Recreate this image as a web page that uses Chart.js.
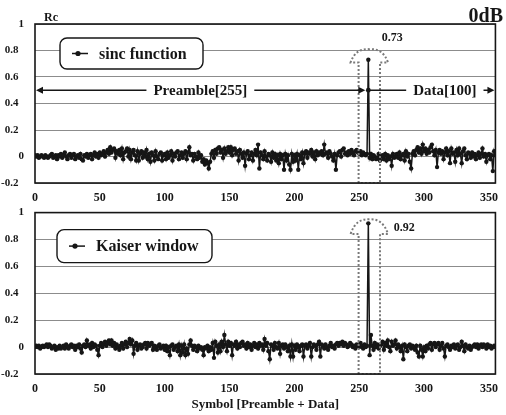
<!DOCTYPE html>
<html>
<head>
<meta charset="utf-8">
<script src="https://cdn.jsdelivr.net/npm/chart.js@4.4.0/dist/chart.umd.min.js"></script>
<style>
  html, body { margin: 0; padding: 0; background: #fff; }
  #wrap { position: relative; width: 506px; height: 415px; }
  canvas { position: absolute; left: 0; }
  #sincChart { top: 0; }
  #kaiserChart { top: 195px; }
</style>
</head>
<body>
<div id="wrap">
  <canvas id="sincChart" width="506" height="210"></canvas>
  <canvas id="kaiserChart" width="506" height="220"></canvas>
</div>
<script>
// correlation output Rc per symbol: 255 preamble symbols followed by 100 data symbols
const preambleLen = 255;
const dataLen = 100;
const symbols = Array.from({ length: 356 }, (_, i) => i);

const sincRc = [
  0.01, 0.00, 0.01, -0.01, 0.00, 0.01, 0.00, -0.01, 0.01, 0.00, -0.01, 0.00, 0.01, 0.02, -0.01, 0.00, 0.01, -0.02, 0.01, 0.00,
  0.02, -0.01, 0.01, 0.03, 0.00, -0.02, 0.01, 0.02, -0.01, 0.01, 0.02, -0.02, 0.00, 0.01, -0.01, 0.02, -0.02, -0.03, 0.01, 0.00,
  0.02, -0.01, 0.01, 0.02, -0.02, 0.01, 0.03, 0.00, 0.02, -0.01, 0.03, 0.01, 0.02, 0.04, 0.00, 0.03, 0.05, 0.02, 0.07, 0.03,
  0.05, 0.06, -0.01, 0.04, 0.02, 0.05, 0.01, 0.06, -0.02, 0.03, 0.04, 0.06, 0.00, 0.05, -0.02, 0.03, 0.05, 0.01, -0.03, 0.04,
  -0.03, 0.02, 0.04, -0.01, 0.03, 0.00, 0.05, -0.02, 0.02, -0.04, 0.03, 0.01, -0.03, 0.04, 0.00, -0.02, 0.02, 0.03, -0.03, 0.01,
  0.02, -0.02, 0.03, -0.01, 0.01, 0.04, -0.03, 0.02, 0.00, 0.03, 0.04, -0.02, 0.01, 0.03, -0.01, 0.02, 0.04, -0.02, 0.03, 0.07,
  0.01, 0.02, -0.03, 0.02, 0.00, -0.02, 0.03, -0.01, 0.01, -0.04, -0.02, -0.06, -0.03, -0.05, -0.09, -0.04, 0.02, 0.04, -0.01, 0.05,
  0.02, 0.06, 0.07, 0.03, 0.05, -0.01, 0.06, 0.02, 0.04, 0.07, 0.03, 0.07, 0.01, 0.05, 0.06, 0.02, 0.04, -0.03, 0.05, 0.02,
  -0.01, 0.03, -0.07, 0.02, 0.04, -0.02, 0.01, 0.03, -0.03, 0.02, 0.05, 0.01, 0.09, -0.09, 0.03, 0.01, -0.02, 0.04, 0.00, -0.03,
  0.02, 0.01, -0.04, 0.03, -0.01, 0.02, -0.03, 0.01, -0.05, 0.02, -0.02, 0.01, -0.10, 0.02, -0.03, 0.01, -0.06, -0.10, 0.02, -0.04,
  0.01, -0.03, 0.02, -0.10, 0.01, -0.02, 0.03, -0.05, 0.02, 0.04, -0.01, 0.03, 0.02, 0.05, 0.00, 0.03, -0.02, 0.04, 0.01, 0.03,
  0.02, 0.04, 0.01, 0.09, 0.02, 0.03, -0.01, 0.04, 0.02, 0.00, -0.03, 0.02, -0.10, 0.01, 0.03, 0.04, 0.00, 0.05, 0.06, 0.02,
  0.03, 0.01, 0.04, 0.02, 0.05, 0.03, 0.01, 0.04, 0.05, 0.03, 0.02, 0.04, 0.01, 0.03, 0.02, 0.01, 0.02, 0.73, -0.01, 0.02,
  -0.02, 0.01, 0.00, -0.02, -0.01, 0.02, -0.03, 0.00, 0.01, -0.02, 0.02, -0.03, 0.01, -0.02, 0.00, -0.07, 0.02, -0.01, 0.00, 0.02,
  -0.01, 0.03, -0.02, 0.01, 0.02, -0.03, 0.04, 0.00, 0.02, -0.04, -0.09, 0.02, 0.04, 0.01, 0.05, 0.07, 0.03, 0.06, 0.02, 0.09,
  0.04, 0.06, 0.02, 0.05, 0.03, 0.07, 0.09, 0.04, 0.01, 0.05, -0.08, 0.03, 0.05, 0.02, 0.04, -0.02, 0.03, 0.06, 0.01, 0.04,
  -0.05, 0.06, 0.02, 0.03, -0.04, 0.05, 0.01, 0.06, 0.02, -0.05, 0.04, 0.06, 0.01, -0.02, 0.03, 0.02, -0.01, 0.03, 0.00, 0.02,
  -0.02, 0.01, 0.03, -0.01, 0.02, 0.06, 0.00, 0.02, -0.04, 0.01, 0.02, -0.02, 0.01, -0.11, 0.04, 0.01
];

const kaiserRc = [
  0.00, 0.01, 0.00, 0.01, -0.01, 0.00, 0.01, 0.00, 0.01, 0.02, 0.00, 0.02, 0.01, -0.01, 0.00, 0.01, -0.02, 0.00, -0.01, 0.01,
  -0.01, 0.00, 0.01, -0.01, 0.02, 0.00, -0.01, 0.01, 0.02, 0.00, 0.01, -0.02, 0.01, 0.00, 0.02, -0.01, -0.04, 0.01, 0.02, 0.00,
  0.05, 0.01, 0.02, -0.01, 0.03, 0.00, 0.02, 0.01, -0.02, -0.06, 0.01, 0.03, 0.00, 0.02, 0.04, 0.01, 0.03, 0.05, 0.02, 0.05,
  0.01, 0.03, -0.01, 0.02, 0.00, -0.02, 0.01, 0.03, -0.01, 0.02, 0.04, 0.00, 0.03, 0.06, 0.02, 0.05, -0.05, 0.01, 0.03, -0.02,
  0.01, 0.02, -0.01, 0.00, 0.02, 0.03, -0.01, 0.03, 0.01, 0.02, 0.03, -0.02, 0.01, 0.00, -0.02, 0.01, 0.02, -0.01, 0.00, 0.01,
  -0.02, 0.01, -0.03, 0.00, -0.06, 0.01, 0.02, -0.02, 0.00, 0.01, -0.03, 0.02, -0.06, 0.01, -0.04, 0.02, -0.06, -0.01, -0.05, 0.02,
  0.05, 0.01, -0.02, 0.01, 0.00, -0.03, 0.01, -0.01, 0.00, -0.02, -0.06, 0.00, -0.01, 0.01, -0.03, 0.00, -0.02, 0.03, -0.08, 0.04,
  0.01, -0.04, 0.02, -0.03, 0.04, 0.00, 0.09, 0.02, -0.03, 0.04, 0.01, 0.03, -0.06, 0.02, 0.01, 0.04, -0.01, 0.02, 0.00, 0.03,
  0.04, 0.01, 0.02, -0.01, 0.03, 0.00, 0.02, -0.02, 0.01, 0.03, 0.00, 0.02, -0.01, 0.03, 0.01, 0.02, -0.02, 0.06, 0.01, 0.03,
  -0.03, -0.09, 0.02, 0.01, -0.02, 0.03, 0.00, -0.01, 0.03, -0.05, 0.01, 0.02, -0.01, 0.02, 0.00, -0.03, 0.01, -0.07, 0.02, -0.07,
  0.01, -0.02, 0.02, 0.00, -0.03, 0.01, 0.02, -0.07, 0.01, 0.02, -0.01, 0.01, 0.03, -0.07, 0.00, 0.02, 0.01, -0.02, 0.02, 0.04,
  -0.07, 0.02, 0.01, -0.01, 0.02, 0.00, -0.02, 0.01, 0.03, 0.00, 0.01, -0.01, 0.02, 0.03, 0.01, 0.03, 0.02, 0.04, 0.01, 0.03,
  0.02, 0.00, 0.01, 0.03, 0.02, 0.00, 0.01, -0.01, 0.02, 0.01, 0.00, 0.03, 0.01, -0.01, 0.02, 0.00, 0.01, 0.92, -0.06, 0.09,
  0.01, -0.02, 0.03, 0.00, 0.02, -0.01, 0.01, 0.02, 0.04, -0.02, 0.03, 0.01, 0.05, 0.00, -0.03, 0.04, 0.01, 0.02, 0.05, -0.01,
  0.02, 0.00, -0.03, 0.01, -0.09, 0.02, 0.00, -0.03, 0.01, 0.02, -0.01, 0.01, 0.00, -0.02, 0.01, -0.04, -0.07, 0.01, -0.02, -0.07,
  0.00, -0.03, 0.01, -0.01, 0.02, 0.03, -0.02, 0.02, 0.03, 0.00, 0.02, 0.03, -0.02, 0.01, 0.03, -0.01, -0.07, 0.01, 0.02, 0.00,
  -0.02, 0.01, 0.00, 0.02, -0.01, 0.01, 0.02, -0.02, 0.00, 0.04, 0.01, -0.03, 0.02, 0.00, -0.01, 0.01, -0.02, 0.00, 0.01, 0.02,
  0.00, 0.02, -0.01, 0.01, 0.02, 0.00, 0.02, 0.01, -0.01, 0.02, 0.00, 0.01, -0.01, 0.00, 0.01, 0.00
];

const xTicks = [0, 50, 100, 150, 200, 250, 300, 350];
const yTicks = [-0.2, 0, 0.2, 0.4, 0.6, 0.8, 1];

const SERIF = '"Liberation Serif", "Times New Roman", serif';
const INK = '#161616';

function arrowHead(ctx, x, y, dir) {
  ctx.beginPath();
  ctx.moveTo(x, y);
  ctx.lineTo(x - dir * 7, y - 3.5);
  ctx.lineTo(x - dir * 7, y + 3.5);
  ctx.closePath();
  ctx.fill();
}

function hLine(ctx, x0, x1, y) {
  ctx.beginPath();
  ctx.moveTo(x0, y);
  ctx.lineTo(x1, y);
  ctx.stroke();
}

// frame, legend box, peak marker and the preamble/data arrows
const decorPlugin = {
  id: 'decor',
  afterDraw(chart, args, opts) {
    const { ctx, chartArea: a, scales: { x, y } } = chart;
    const pts = chart.data.datasets[0].data;
    const peak = pts.reduce((m, p) => (p.y > m.y ? p : m));
    const px = x.getPixelForValue(peak.x);
    const py = y.getPixelForValue(peak.y);

    ctx.save();
    ctx.fillStyle = INK;
    ctx.strokeStyle = INK;

    // dotted outline around the peak
    const xl = x.getPixelForValue(opts.window[0]);
    const xr = x.getPixelForValue(opts.window[1]);
    const ys = y.getPixelForValue(opts.shoulder);
    const ya = y.getPixelForValue(opts.apex);
    const xc = (xl + xr) / 2;
    ctx.save();
    ctx.strokeStyle = '#7a7a7a';
    ctx.lineWidth = 2;
    ctx.setLineDash([2, 2]);
    ctx.beginPath();
    ctx.moveTo(xl, a.bottom);
    ctx.lineTo(xl, ys);
    ctx.lineTo(xl - 8, ys);
    ctx.quadraticCurveTo(xl - 3, ya - 1, xc, ya);
    ctx.quadraticCurveTo(xr + 3, ya - 1, xr + 8, ys);
    ctx.lineTo(xr, ys);
    ctx.lineTo(xr, a.bottom);
    ctx.closePath();
    ctx.stroke();
    ctx.restore();

    // plot frame
    ctx.lineWidth = 1.6;
    ctx.strokeRect(a.left, a.top, a.right - a.left, a.bottom - a.top);

    // peak value
    ctx.font = `bold 12px ${SERIF}`;
    ctx.textAlign = 'center';
    ctx.textBaseline = 'middle';
    ctx.fillText(peak.y.toFixed(2), px + opts.labelDx, py + opts.labelDy);

    // legend box
    const lg = opts.legend;
    const bx = a.left + lg.dx, by = a.top + lg.dy;
    ctx.beginPath();
    ctx.roundRect(bx, by, lg.w, lg.h, 7);
    ctx.fillStyle = '#fff';
    ctx.fill();
    ctx.fillStyle = INK;
    ctx.lineWidth = 1.4;
    ctx.stroke();
    const my = by + lg.h / 2;
    ctx.lineWidth = 1.5;
    hLine(ctx, bx + 12, bx + 28, my);
    ctx.beginPath();
    ctx.arc(bx + 18, my, 2.6, 0, Math.PI * 2);
    ctx.fill();
    ctx.font = `bold 16px ${SERIF}`;
    ctx.textAlign = 'left';
    ctx.fillText(chart.data.datasets[0].label, bx + 39, my + 1);

    // preamble / data span arrows
    if (opts.spans) {
      const sy = y.getPixelForValue(opts.spans.level);
      ctx.font = `bold 15px ${SERIF}`;
      ctx.textAlign = 'center';
      ctx.lineWidth = 1.5;
      const preText = `Preamble[${preambleLen}]`;
      const datText = `Data[${dataLen}]`;
      const preX = x.getPixelForValue(opts.spans.preambleAt);
      const datX = x.getPixelForValue(opts.spans.dataAt);
      const pw = ctx.measureText(preText).width / 2 + 7;
      const dw = ctx.measureText(datText).width / 2 + 7;
      hLine(ctx, a.left + 4, preX - pw, sy);
      arrowHead(ctx, a.left + 1, sy, -1);
      ctx.fillText(preText, preX, sy + 1);
      hLine(ctx, preX + pw, px - 8, sy);
      arrowHead(ctx, px - 3, sy, 1);
      ctx.beginPath();
      ctx.arc(px, sy, 2.4, 0, Math.PI * 2);
      ctx.fill();
      hLine(ctx, px, datX - dw, sy);
      ctx.fillText(datText, datX, sy + 1);
      hLine(ctx, datX + dw, a.right - 5, sy);
      arrowHead(ctx, a.right - 1, sy, 1);
    }

    // corner texts
    if (opts.corner) {
      ctx.textBaseline = 'alphabetic';
      ctx.font = `bold 20px ${SERIF}`;
      ctx.textAlign = 'right';
      ctx.fillText(opts.corner.right, 503, 22);
      ctx.font = `bold 12px ${SERIF}`;
      ctx.textAlign = 'left';
      ctx.fillText(opts.corner.left, 44, 21);
    }

    // axis title
    if (opts.xTitle) {
      ctx.font = `bold 13px ${SERIF}`;
      ctx.textAlign = 'center';
      ctx.textBaseline = 'middle';
      ctx.fillText(opts.xTitle, (a.left + a.right) / 2, a.bottom + 31);
    }
    ctx.restore();
  }
};

function makeChart(id, label, values, pad, xHeight, decor) {
  return new Chart(document.getElementById(id), {
    type: 'line',
    data: {
      datasets: [{
        label: label,
        data: symbols.map((s, i) => ({ x: s, y: values[i] })),
        borderColor: INK,
        borderWidth: 1.5,
        pointRadius: 2.2,
        pointBackgroundColor: INK,
        pointBorderWidth: 0,
        tension: 0
      }]
    },
    options: {
      responsive: false,
      animation: false,
      devicePixelRatio: 1,
      layout: { padding: pad },
      plugins: { legend: { display: false }, tooltip: { enabled: false }, decor: decor },
      scales: {
        x: {
          type: 'linear',
          min: 0,
          max: 355,
          afterBuildTicks: s => { s.ticks = xTicks.map(v => ({ value: v })); },
          afterFit: s => { s.height = xHeight; },
          grid: { display: false, drawTicks: false },
          border: { display: false },
          ticks: { color: INK, padding: 8, maxRotation: 0, font: { family: SERIF, size: 12, weight: 'bold' } }
        },
        y: {
          min: -0.2,
          max: 1,
          afterBuildTicks: s => { s.ticks = yTicks.map(v => ({ value: v })); },
          afterFit: s => { s.width = 35; },
          grid: { color: '#8c8c8c', lineWidth: 1, drawTicks: false },
          border: { display: false },
          ticks: {
            color: INK,
            padding: 11,
            font: { family: SERIF, size: 11, weight: 'bold' },
            callback: v => (Number.isInteger(v) ? String(v) : v.toFixed(1) + '  ')
          }
        }
      }
    },
    plugins: [decorPlugin]
  });
}

makeChart('sincChart', 'sinc function', sincRc, { top: 24, left: 0, right: 4, bottom: 0 }, 27, {
  window: [249.5, 266], shoulder: 0.71, apex: 0.81,
  labelDx: 24, labelDy: -22,
  legend: { dx: 25, dy: 14, w: 143, h: 31 },
  spans: { level: 0.5, preambleAt: 127.5, dataAt: 316 },
  corner: { left: 'Rc', right: '0dB' }
});

makeChart('kaiserChart', 'Kaiser window', kaiserRc, { top: 12, left: 0, right: 4, bottom: 0 }, 41, {
  window: [249.5, 266], shoulder: 0.84, apex: 0.95,
  labelDx: 36, labelDy: 5,
  legend: { dx: 22, dy: 17, w: 155, h: 33 },
  xTitle: 'Symbol [Preamble + Data]'
});
</script>
</body>
</html>
